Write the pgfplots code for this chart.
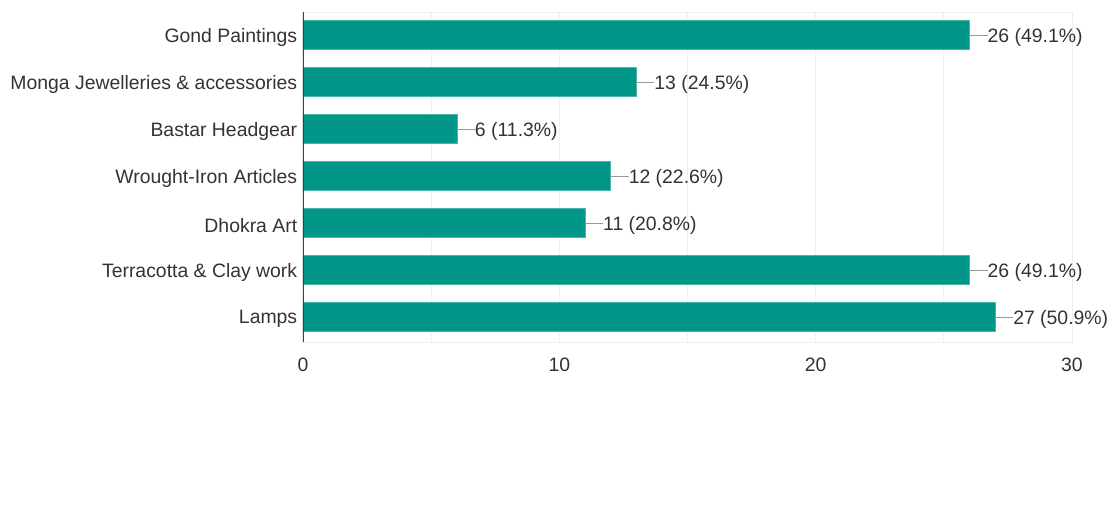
\documentclass[border=0pt]{standalone}
\usepackage{pgfplots}
\pgfplotsset{compat=1.18}
\usepackage{fontspec}
\setmainfont{Liberation Sans}
\definecolor{barc}{HTML}{009688}
\definecolor{txt}{HTML}{333333}
\begin{document}
\begin{tikzpicture}[x=1pt,y=1pt]
\path[use as bounding box] (-303,-163) rectangle (814,342);
\begin{axis}[at={(0,0)},anchor=south west, scale only axis, width=769pt, height=330pt,
  xbar, bar width=29pt, xmin=0, xmax=30, ymin=-0.53, ymax=6.49,
  ytick={0,...,6},
  yticklabels={Lamps, Terracotta \& Clay work, Dhokra Art, Wrought-Iron Articles, Bastar Headgear, Monga Jewelleries \& accessories, Gond Paintings},
  xtick={0,10,20,30}, minor xtick={5,15,25},
  xmajorgrids, xminorgrids, grid style={draw=black!6, line width=0.8pt},
  axis line style={draw=black!7, line width=0.8pt},
  tick style={draw=none},
  ticklabel style={font=\fontsize{19.4}{22}\selectfont, text=txt},
  /pgf/number format/assume math mode=true,
  yticklabel style={xshift=2pt, yshift=-2pt},
  xticklabel style={yshift=-12pt},
  point meta=explicit symbolic,
  nodes near coords={\textcolor{black!40}{\rule[0.33em]{18pt}{1.1pt}}\pgfplotspointmeta},
  every node near coord/.append style={inner sep=0pt, anchor=west, yshift=-2pt, font=\fontsize{19.4}{22}\selectfont, text=txt},
]
\addplot[fill=barc, draw=barc!70!white] coordinates {
(27,0) [27 (50.9\%)]
(26,1) [26 (49.1\%)]
(11,2) [11 (20.8\%)]
(12,3) [12 (22.6\%)]
(6,4) [6 (11.3\%)]
(13,5) [13 (24.5\%)]
(26,6) [26 (49.1\%)]
};
\draw[color=black!75, line width=1.2pt] (rel axis cs:0,0) -- (rel axis cs:0,1);
\end{axis}
\end{tikzpicture}
\end{document}
